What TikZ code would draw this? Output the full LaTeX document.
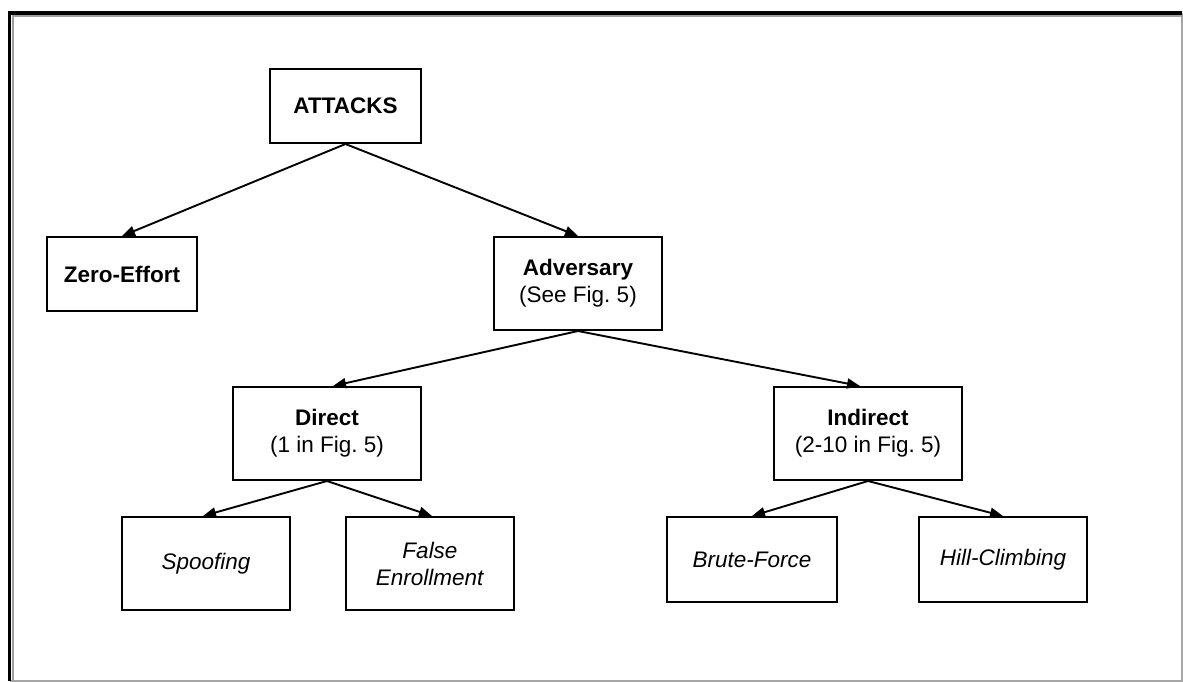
\documentclass[tikz,border=0pt]{standalone}
\usepackage{fontspec}
\setmainfont{Liberation Sans}
\usetikzlibrary{arrows.meta}
\frenchspacing

\tikzset{
  box/.style={draw=black, line width=2pt, fill=white, align=center,
              inner sep=0pt, font=\fontsize{22.5}{27}\selectfont},
  link/.style={line width=1.9pt, -{Triangle[length=13pt,width=10pt]}},
}

\begin{document}
\begin{tikzpicture}[x=1pt,y=-1pt]
  \useasboundingbox (0,0) rectangle (1183,682);

  % outer frame with a shaded upper-left edge
  \draw[gray!70, line width=1.5pt] (1182,13) -- (1182,681) -- (9.5,681);
  \draw[gray!75, line width=2pt] (12.5,681) -- (12.5,16) -- (1182,16);
  \draw[black, line width=3.5pt] (9.5,681) -- (9.5,13) -- (1182,13);

  % nodes
  \node[box, minimum width=151, minimum height=74] (attacks) at (345.5,106) {\textbf{ATTACKS}};
  \node[box, minimum width=150, minimum height=74] (zero) at (122,274) {\textbf{Zero-Effort}};
  \node[box, minimum width=168, minimum height=93] (adv) at (578,283.5) {\textbf{Adversary}\\(See Fig. 5)};
  \node[box, minimum width=188, minimum height=93] (direct) at (327,433.5) {\textbf{Direct}\\(1 in Fig. 5)};
  \node[box, minimum width=188, minimum height=93] (indirect) at (868,433.5) {\textbf{Indirect}\\(2-10 in Fig. 5)};
  \node[box, minimum width=168, minimum height=93] (spoof) at (206,563.5) {\textit{Spoofing}};
  \node[box, minimum width=168, minimum height=93] (false) at (430,563.5) {\textit{False}\\\textit{Enrollment}};
  \node[box, minimum width=170, minimum height=85] (brute) at (752,559.5) {\textit{Brute-Force}};
  \node[box, minimum width=168, minimum height=85] (hill) at (1003,559.5) {\textit{Hill-Climbing}};

  % connectors
  \draw[link] (attacks.south) -- (zero.north);
  \draw[link] (attacks.south) -- (adv.north);
  \draw[link] (adv.south) -- ([xshift=6pt]direct.north);
  \draw[link] (adv.south) -- ([xshift=-8pt]indirect.north);
  \draw[link] (direct.south) -- ([xshift=-3pt]spoof.north);
  \draw[link] (direct.south) -- ([xshift=2pt]false.north);
  \draw[link] (indirect.south) -- (brute.north);
  \draw[link] (indirect.south) -- (hill.north);
\end{tikzpicture}
\end{document}
